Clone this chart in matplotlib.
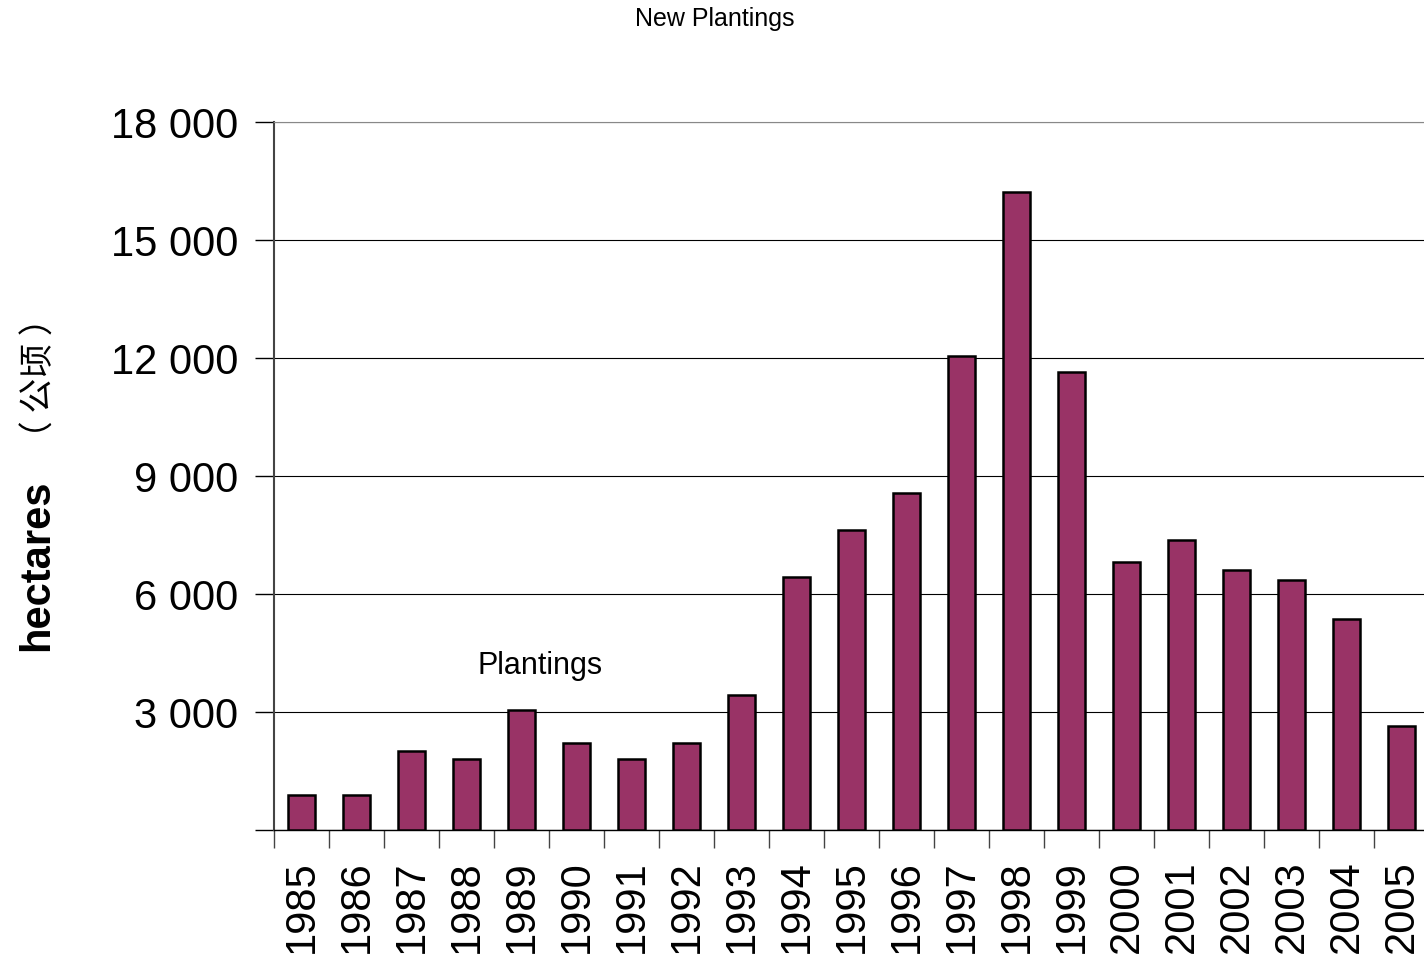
import matplotlib.pyplot as plt
import numpy as np

years = [str(y) for y in range(1985, 2006)]
plantings = [900, 900, 2000, 1800, 3050, 2200, 1800, 2200, 3430, 6430, 7630,
             8570, 12050, 16220, 11640, 6810, 7370, 6610, 6360, 5360, 2640]
yticks = [0, 3000, 6000, 9000, 12000, 15000, 18000]
ytick_labels = ['', '3 000', '6 000', '9 000', '12 000', '15 000', '18 000']

plt.rcParams['font.family'] = ['Liberation Sans', 'DejaVu Sans']

fig = plt.figure(figsize=(14.24, 9.63), dpi=100)
ax = fig.add_axes([274 / 1424, 133 / 963, 1155 / 1424, 708 / 963])

x = np.arange(len(years))
ax.bar(x, plantings, width=0.5, color='#993366', edgecolor='black', linewidth=1.8, zorder=3)

ax.set_xlim(-0.5, len(years) - 0.5)
ax.set_ylim(0, 18000)

ax.set_yticks(yticks)
ax.set_yticklabels(ytick_labels, fontsize=30)
ax.tick_params(axis='y', length=14, width=1, pad=12, direction='out')
ax.yaxis.grid(True, color='black', linewidth=0.8, zorder=0)

ax.set_xticks(x)
ax.set_xticklabels(years, rotation=90, fontsize=30, va='top')
ax.tick_params(axis='x', which='major', length=0, pad=22)
ax.set_xticks(np.arange(-0.5, len(years)), minor=True)
ax.tick_params(axis='x', which='minor', length=13, width=1, direction='out', color='#444444')

ax.spines['right'].set_visible(False)
ax.spines['left'].set_color('#444444')
ax.spines['left'].set_linewidth(1.5)
ax.spines['bottom'].set_color('black')
ax.spines['bottom'].set_linewidth(1)
ax.spines['top'].set_color('#888888')

ax.text(0.2303, 0.2316, 'Plantings', transform=ax.transAxes, fontsize=22, ha='center', va='center')

fig.text(715 / 1424, 1 - 19 / 963, 'New Plantings', fontsize=18, ha='center', va='center')
fig.text(37 / 1424, 1 - 565 / 963, 'hectares', fontsize=30, fontweight='bold',
         rotation=90, ha='center', va='center')
fig.text(40 / 1424, 1 - 378 / 963, '（ 公顷 ）', fontsize=25, rotation=90, ha='center', va='center',
         family=['Noto Sans CJK SC', 'DejaVu Sans'])

plt.savefig('out.png', dpi=100)
